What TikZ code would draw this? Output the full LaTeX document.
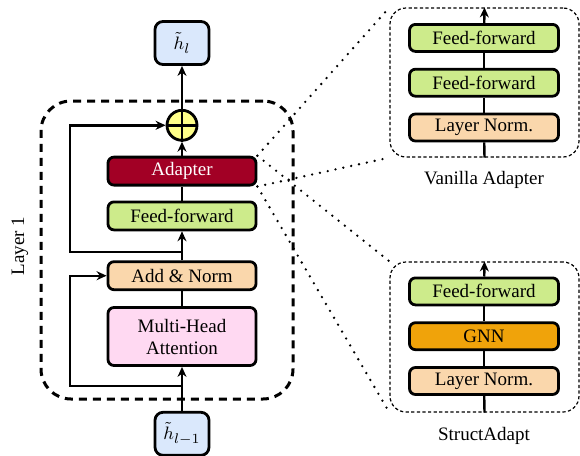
\documentclass[tikz,border=0pt]{standalone}
\usepackage{fontspec}
\setmainfont{Liberation Serif}
\usetikzlibrary{arrows.meta, positioning}

\definecolor{stateblue}{HTML}{DAE8FC}
\definecolor{sumyellow}{HTML}{FFFF88}
\definecolor{adapterred}{HTML}{A20025}
\definecolor{ffgreen}{HTML}{CDEB8B}
\definecolor{normpeach}{HTML}{FAD7AC}
\definecolor{mhapink}{HTML}{FFD9F2}
\definecolor{gnnorange}{HTML}{F0A30A}

\begin{document}
\begin{tikzpicture}[x=0.5pt, y=-0.5pt, >={Stealth[length=5pt,width=4.5pt]},
    font=\fontsize{9.5}{11}\selectfont,
    block/.style={rectangle, rounded corners=3pt, draw=black, line width=1.4pt, minimum width=74pt, minimum height=14pt, inner sep=1pt, align=center},
    sblock/.style={block, minimum width=74.5pt, minimum height=13.5pt},
    state/.style={rectangle, rounded corners=4pt, draw=black, fill=stateblue, line width=1.4pt, minimum width=27pt, minimum height=21.5pt},
    layerbox/.style={rectangle, rounded corners=15pt, draw=black, line width=1.5pt, dash pattern=on 4pt off 3pt},
    groupbox/.style={rectangle, rounded corners=8pt, draw=black, line width=0.6pt, dash pattern=on 1.6pt off 1.2pt},
    flow/.style={line width=1.2pt},
    zoomline/.style={line width=1.3pt, line cap=round, dash pattern=on 0pt off 4pt}]

    \useasboundingbox (0,0) rectangle (580,456);

    % transformer layer
    \node [layerbox, minimum width=126pt, minimum height=149pt] (layer) at (167,250) {};
    \node [rotate=90] (layerlbl) at (20,246) {Layer 1};

    \node [block, fill=mhapink, minimum height=29pt] (mha) at (182,336.5) {Multi-Head\\Attention};
    \node [block, fill=normpeach, above=7.5pt of mha] (addnorm) {Add \& Norm};
    \node [block, fill=ffgreen, above=14.5pt of addnorm] (ffmain) {Feed-forward};
    \node [block, fill=adapterred, text=white, above=7pt of ffmain] (adapter) {Adapter};
    \node [circle, draw=black, fill=sumyellow, line width=1.4pt, minimum size=15pt, inner sep=0pt, above=7pt of adapter] (sum) {};
    \draw [line width=1.4pt] (sum.north) -- (sum.south) (sum.west) -- (sum.east);
    \node [state, above=21.5pt of sum] (hout) {$\tilde{h}_l$};
    \node [state, below=22pt of mha] (hin) {$\tilde{h}_{l-1}$};

    \coordinate (skipa) at (182,252);
    \coordinate (skipb) at (182,386);

    \draw [->, flow] (hin) -- (mha);
    \draw [flow] (mha) -- (addnorm);
    \draw [->, flow] (addnorm) -- (ffmain);
    \draw [flow] (ffmain) -- (adapter);
    \draw [->, flow] (adapter) -- (sum);
    \draw [->, flow] (sum) -- (hout);
    \draw [->, flow] (skipa) -- ++(-112,0) |- (sum);
    \draw [->, flow] (skipb) -- ++(-112,0) |- (addnorm);

    % vanilla adapter
    \node [groupbox, minimum width=94.5pt, minimum height=74.5pt] (vanilla) at (484.5,82.5) {};
    \node [sblock, fill=normpeach] (vln) at (484,127.5) {Layer Norm.};
    \node [sblock, fill=ffgreen, above=7.5pt of vln] (vffa) {Feed-forward};
    \node [sblock, fill=ffgreen, above=7.5pt of vffa] (vffb) {Feed-forward};
    \node (vanillalbl) at (484,180) {Vanilla Adapter};

    \draw [flow] (vanilla.south) -- (vln);
    \draw [flow] (vln) -- (vffa);
    \draw [flow] (vffa) -- (vffb);
    \draw [->, flow] (vffb) -- (vanilla.north);

    % structadapt
    \node [groupbox, minimum width=94.5pt, minimum height=75pt] (struct) at (484.5,337) {};
    \node [sblock, fill=normpeach] (sln) at (484,381) {Layer Norm.};
    \node [sblock, fill=gnnorange, above=7.5pt of sln] (gnn) {GNN};
    \node [sblock, fill=ffgreen, above=7.5pt of gnn] (sff) {Feed-forward};
    \node (structlbl) at (484,436) {StructAdapt};

    \draw [flow] (struct.south) -- (sln);
    \draw [flow] (sln) -- (gnn);
    \draw [flow] (gnn) -- (sff);
    \draw [->, flow] (sff) -- (struct.north);

    % zoom lines
    \draw [zoomline] (adapter.north east) -- (vanilla.north west);
    \draw [zoomline] (adapter.south east) -- (vanilla.south west);
    \draw [zoomline] (adapter.north east) -- (struct.north west);
    \draw [zoomline] (adapter.south east) -- (struct.south west);
\end{tikzpicture}
\end{document}
